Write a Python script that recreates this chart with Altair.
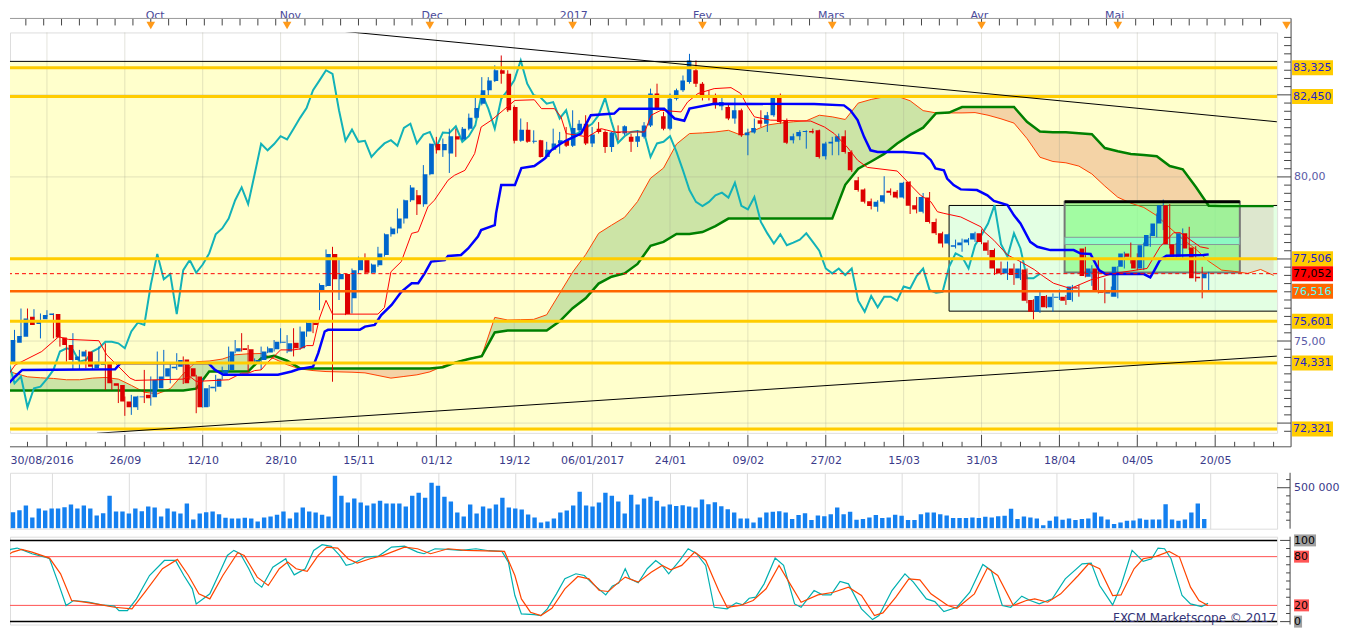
import altair as alt
import pandas as pd

# ---------------- data ----------------
opens = [73.92, 74.32, 74.95, 75.13, 75.74, 75.52, 75.66, 75.79, 75.82, 75.11,
         74.88, 74.42, 74.53, 74.68, 74.17, 74.27, 74.32, 73.71, 73.66, 73.16,
         72.98, 73.29, 73.36, 73.29, 73.56, 73.92, 74.17, 74.22, 74.44, 74.17,
         73.92, 72.98, 73.56, 73.61, 73.97, 74.12, 74.68, 74.78, 74.75, 74.37,
         74.42, 74.65, 74.75, 74.95, 74.68, 74.95, 74.78, 75.29, 75.56, 76.50,
         76.68, 77.65, 76.88, 77.04, 76.30, 77.16, 77.47, 77.08, 77.31, 77.62,
         78.25, 78.43, 78.73, 79.29, 79.44, 79.17, 80.08, 81.00, 80.81, 80.71,
         81.24, 81.14, 81.47, 81.80, 82.23, 82.64, 82.92, 83.25, 83.14, 82.13,
         81.10, 81.44, 81.07, 81.12, 80.61, 80.83, 81.02, 81.12, 80.95, 81.42,
         81.62, 81.02, 81.47, 81.37, 80.91, 81.37, 81.32, 81.22, 81.07, 81.22,
         81.57, 82.54, 81.85, 81.47, 82.38, 82.64, 82.89, 83.25, 82.84, 82.49,
         82.43, 82.15, 82.13, 81.78, 82.03, 81.27, 81.35, 81.73, 81.62, 81.88,
         82.43, 81.73, 81.12, 81.24, 81.37, 81.40, 81.42, 80.63, 81.02, 81.07,
         81.24, 80.76, 79.90, 79.62, 79.26, 79.09, 79.24, 79.58, 79.55, 79.37,
         79.85, 79.14, 78.94, 79.37, 78.63, 78.28, 77.97, 77.87, 77.92, 78.00,
         78.09, 78.28, 78.00, 77.77, 77.21, 77.06, 77.21, 76.91, 77.18, 76.25,
         75.89, 76.37, 76.03, 76.32, 76.35, 76.25, 76.64, 77.82, 76.96, 77.21,
         76.50, 76.45, 76.35, 77.26, 77.67, 77.47, 77.21, 77.89, 78.20, 78.58,
         79.14, 77.95, 77.57, 78.28, 77.85, 76.96, 76.91]
highs = [74.32, 75.13, 75.34, 75.99, 75.99, 75.97, 75.84, 75.94, 75.84, 75.34,
         75.03, 75.24, 74.73, 74.73, 74.63, 74.83, 74.93, 73.82, 73.71, 73.31,
         73.36, 73.33, 74.12, 73.92, 74.68, 74.73, 74.32, 74.63, 74.53, 74.27,
         73.97, 73.87, 73.66, 73.97, 74.22, 74.83, 75.03, 75.24, 74.88, 74.47,
         74.83, 74.83, 75.03, 75.39, 75.18, 75.39, 75.44, 75.59, 75.59, 76.76,
         77.79, 77.87, 77.47, 77.06, 77.21, 77.57, 77.67, 77.36, 77.87, 78.28,
         78.48, 79.04, 79.31, 79.75, 79.60, 80.36, 81.02, 81.22, 81.17, 81.47,
         81.47, 81.52, 81.93, 82.43, 83.04, 83.04, 83.40, 83.70, 83.25, 82.18,
         81.78, 81.67, 81.42, 81.13, 81.07, 81.47, 81.37, 81.52, 82.03, 81.73,
         81.88, 81.52, 81.67, 81.42, 81.37, 81.57, 81.57, 81.32, 81.42, 81.67,
         82.69, 82.84, 81.98, 82.54, 82.69, 83.09, 83.75, 83.55, 82.89, 82.64,
         82.54, 82.49, 82.23, 82.49, 82.08, 81.47, 81.78, 82.03, 81.98, 82.43,
         82.54, 81.78, 81.32, 81.42, 81.42, 81.47, 81.44, 81.07, 81.22, 81.32,
         81.42, 80.81, 80.00, 79.65, 79.34, 79.29, 80.02, 79.65, 79.60, 79.85,
         79.87, 79.39, 79.51, 79.54, 78.73, 78.33, 78.28, 78.09, 78.12, 78.14,
         78.33, 78.40, 78.07, 77.82, 77.42, 77.42, 77.36, 77.42, 77.21, 76.27,
         76.50, 76.40, 76.45, 76.57, 76.40, 76.71, 76.71, 77.87, 77.31, 77.47,
         76.91, 76.66, 77.28, 77.72, 78.00, 77.67, 78.00, 78.28, 78.89, 79.31,
         79.17, 77.99, 78.43, 78.48, 77.89, 77.26, 77.11]
lows = [73.82, 74.22, 74.78, 75.11, 75.44, 75.49, 75.08, 75.74, 75.08, 74.83,
        74.37, 74.12, 74.12, 74.17, 74.12, 74.24, 73.51, 73.51, 73.11, 72.72,
        72.75, 72.90, 73.11, 73.03, 73.51, 73.82, 73.71, 74.12, 73.69, 73.82,
        72.80, 72.97, 73.00, 73.46, 73.82, 74.07, 74.63, 74.68, 74.07, 74.32,
        74.12, 74.63, 74.68, 74.93, 74.63, 74.53, 74.73, 75.13, 75.24, 75.94,
        76.65, 73.76, 76.25, 75.79, 75.84, 77.06, 77.04, 77.06, 77.26, 77.57,
        78.18, 78.28, 78.58, 79.24, 78.84, 79.09, 80.05, 80.71, 80.61, 80.12,
        80.61, 81.12, 81.42, 81.78, 82.18, 82.49, 82.89, 82.84, 81.98, 81.02,
        81.07, 81.04, 81.02, 80.59, 80.56, 80.81, 80.71, 80.91, 80.91, 81.37,
        80.97, 80.91, 81.32, 80.73, 80.76, 81.12, 81.27, 80.76, 80.91, 81.17,
        81.52, 82.03, 81.42, 81.42, 82.33, 82.59, 82.84, 82.74, 82.33, 82.33,
        82.08, 82.03, 81.73, 81.62, 81.22, 80.66, 81.32, 81.52, 81.37, 81.83,
        81.62, 81.00, 81.02, 81.12, 80.86, 81.32, 80.56, 80.53, 80.66, 80.66,
        80.71, 80.15, 79.55, 79.19, 79.01, 78.94, 79.19, 79.44, 79.34, 79.34,
        78.87, 78.89, 78.89, 78.58, 78.23, 77.85, 77.92, 77.82, 77.72, 77.92,
        78.02, 77.95, 77.62, 77.01, 77.01, 76.86, 76.71, 76.86, 76.15, 75.66,
        75.86, 76.00, 75.89, 76.25, 76.10, 76.20, 76.35, 76.94, 76.68, 76.45,
        76.15, 76.35, 76.30, 77.21, 77.36, 77.16, 77.16, 77.87, 78.16, 78.38,
        77.82, 77.55, 77.52, 77.77, 76.81, 76.30, 76.55]
closes = [74.27, 75.03, 75.15, 75.69, 75.49, 75.64, 75.79, 75.84, 75.11, 74.88,
          74.42, 74.53, 74.68, 74.22, 74.37, 74.32, 73.71, 73.64, 73.16, 72.98,
          73.31, 73.31, 73.26, 73.82, 73.92, 74.17, 74.22, 74.42, 73.71, 73.92,
          72.98, 73.56, 73.61, 73.85, 74.12, 74.68, 74.78, 74.73, 74.37, 74.42,
          74.68, 74.78, 74.98, 74.98, 74.93, 74.78, 75.29, 75.56, 75.49, 76.71,
          77.65, 76.88, 77.04, 75.82, 77.16, 77.47, 77.08, 77.33, 77.67, 78.25,
          78.43, 78.73, 79.29, 79.68, 79.17, 80.08, 81.01, 80.81, 81.00, 81.24,
          81.14, 81.47, 81.80, 82.10, 82.64, 82.94, 83.25, 83.14, 82.03, 81.10,
          81.44, 81.07, 81.10, 80.61, 80.83, 81.02, 81.12, 80.95, 81.49, 81.62,
          81.02, 81.29, 81.37, 80.91, 81.35, 81.34, 81.54, 81.07, 81.24, 81.57,
          82.54, 82.08, 81.47, 82.38, 82.64, 82.94, 83.55, 82.84, 82.49, 82.43,
          82.23, 82.28, 81.78, 82.03, 81.27, 81.35, 81.49, 81.62, 81.88, 82.41,
          81.67, 81.04, 81.24, 81.37, 81.40, 81.35, 80.61, 81.02, 81.07, 81.24,
          80.76, 80.20, 79.60, 79.24, 79.11, 79.24, 79.44, 79.52, 79.37, 79.82,
          79.12, 79.01, 79.39, 78.63, 78.28, 77.97, 78.25, 77.92, 78.00, 78.09,
          78.28, 78.02, 77.75, 77.21, 77.06, 77.21, 77.01, 77.21, 76.23, 75.89,
          76.37, 76.03, 76.35, 76.35, 76.23, 76.66, 76.60, 76.98, 77.21, 76.55,
          76.47, 76.50, 77.26, 77.67, 77.57, 77.21, 77.92, 78.23, 78.58, 79.14,
          77.95, 77.57, 78.28, 77.82, 76.91, 76.91, 77.05]
volume_k = [187, 199, 224, 280, 134, 244, 220, 244, 244, 260,
            293, 244, 280, 244, 159, 187, 402, 207, 207, 183,
            244, 211, 268, 256, 146, 244, 207, 183, 305, 110,
            183, 199, 207, 175, 130, 122, 122, 130, 122, 85,
            134, 146, 167, 207, 122, 195, 256, 207, 195, 167,
            146, 646, 402, 317, 366, 317, 280, 305, 341, 305,
            305, 305, 268, 402, 439, 378, 561, 524, 390, 329,
            195, 146, 293, 183, 268, 244, 293, 378, 256, 244,
            232, 171, 134, 73, 85, 122, 195, 220, 280, 451,
            280, 268, 317, 439, 402, 329, 183, 415, 293, 366,
            390, 341, 268, 293, 276, 285, 268, 256, 354, 297,
            321, 272, 236, 195, 122, 122, 73, 134, 195, 203,
            211, 195, 114, 163, 187, 102, 159, 150, 175, 256,
            175, 203, 106, 114, 134, 163, 126, 134, 167, 154,
            102, 102, 175, 195, 195, 175, 159, 126, 126, 126,
            134, 126, 142, 134, 150, 154, 240, 114, 146, 134,
            122, 37, 93, 146, 106, 122, 102, 114, 122, 195,
            146, 110, 53, 73, 93, 98, 122, 106, 110, 110,
            297, 110, 93, 110, 195, 305, 114]

tenkan_x = [0.1, 2.1, 6.2, 8.8, 10.3, 15, 16.2, 17.8, 19.8, 20.6,
            28, 29, 30, 35, 36, 37, 38, 39, 40, 41,
            42, 43, 45, 46, 47, 48, 49, 50, 51, 58,
            59, 60, 61.6, 63.2, 64.2, 65.7, 66.7, 68.8, 69.8, 71.4,
            72.9, 73.9, 75.5, 79.1, 82.1, 83.2, 85.2, 86.2, 87, 90.3,
            92.4, 94.4, 99.1, 100.1, 101.6, 104.7, 105.7, 107.3, 109.8, 112.4,
            113.9, 115, 116, 118.5, 124.7, 126.8, 128.3, 130.3, 131.9, 133.4,
            138, 139.6, 141.6, 143.2, 144.2, 145.2, 147.8, 150.9, 151.4, 152.9,
            155, 157, 159.1, 160.6, 162.1, 164.7, 167.8, 171.4, 176.5, 178.5,
            180.6, 181.6, 184.7, 186]
tenkan_y = [73.71, 74.27, 74.68, 75.13, 75.05, 75.01, 74.58, 74.27, 73.87, 73.80,
            73.84, 73.92, 73.77, 73.82, 73.92, 74.02, 74.02, 74.10, 74.12, 74.35,
            74.53, 74.73, 74.73, 74.76, 74.86, 74.86, 75.70, 76.24, 75.82, 75.82,
            76.02, 77.11, 77.42, 78.28, 78.33, 79.09, 79.29, 79.90, 80.05, 80.20,
            80.71, 81.52, 81.73, 82.33, 82.35, 82.08, 82.08, 81.83, 81.32, 81.22,
            81.47, 81.37, 81.37, 81.88, 82.03, 81.98, 82.28, 82.54, 82.69, 82.72,
            82.54, 82.13, 81.83, 81.73, 81.70, 81.52, 81.32, 80.91, 80.51, 80.29,
            80.18, 79.85, 79.44, 79.24, 78.94, 78.89, 78.78, 78.48, 78.33, 78.07,
            77.62, 77.42, 77.18, 76.96, 76.76, 76.60, 76.86, 77.06, 77.21, 77.87,
            78.30, 78.30, 77.87, 77.82]

kijun_x = [0, 1.1, 2.1, 3.2, 17.5, 18.3, 31.9, 32.9, 34.2, 42.6,
           44.7, 45.7, 48, 48.8, 49.8, 50.3, 55.2, 56, 57.5, 58.5,
           60.1, 61.6, 63.2, 64.2, 65.2, 66.2, 68.3, 68.8, 70.8, 71.9,
           73.4, 73.9, 76, 76.2, 77, 79.1, 80.1, 82.1, 83.7, 84.7,
           86.2, 87.3, 89.3, 90.8, 94.4, 95.2, 102.1, 103.7, 105.2, 106,
           109.8, 125.2, 129.8, 130.8, 131.9, 132.9, 133.9, 135, 139, 142.1,
           143.2, 143.9, 145.2, 145.7, 146.7, 147.8, 150.3, 151.9, 152.9, 155,
           156, 157, 158.5, 159.6, 161.6, 165.2, 166.2, 167.8, 169.1, 170.1,
           176, 177, 177.5, 178.5, 179.5, 185.2, 186]
kijun_y = [73.63, 73.71, 73.92, 74.12, 74.14, 74.32, 74.32, 74.12, 73.97, 73.97,
           74.07, 74.14, 74.22, 74.63, 75.29, 75.34, 75.34, 75.44, 75.49, 75.79,
           76.10, 76.50, 76.76, 76.76, 77.06, 77.42, 77.47, 77.59, 77.62, 77.82,
           78.18, 78.38, 78.53, 78.89, 79.75, 79.75, 80.27, 80.33, 80.56, 80.81,
           81.02, 81.14, 81.32, 81.88, 81.93, 82.08, 82.08, 81.78, 81.71, 82.08,
           82.23, 82.22, 82.18, 82.03, 81.73, 81.22, 80.81, 80.76, 80.76, 80.71,
           80.51, 80.26, 80.20, 79.95, 79.75, 79.62, 79.60, 79.44, 79.27, 79.14,
           78.83, 78.58, 78.02, 77.87, 77.77, 77.77, 77.67, 77.65, 77.16, 77.04,
           77.04, 76.94, 77.11, 77.47, 77.60, 77.62, 77.64]

cloud_x = list(range(0, 197, 2))
span_a = [74.17, 74.02, 73.91, 73.88, 73.86, 73.82, 73.82, 73.87, 73.89, 73.84,
          73.65, 73.44, 73.39, 73.55, 74.00, 74.37, 74.39, 74.45, 74.58, 74.61,
          74.62, 74.46, 74.28, 74.15, 74.10, 74.07, 74.06, 74.05, 74.03, 73.95,
          73.87, 73.92, 73.97, 74.06, 74.24, 74.36, 74.46, 74.55, 75.72, 75.64,
          75.65, 75.66, 75.80, 76.45, 77.10, 77.63, 78.28, 78.53, 78.77, 79.25,
          79.96, 80.27, 81.00, 81.32, 81.34, 81.37, 81.42, 81.27, 81.42, 81.58,
          81.64, 81.68, 81.71, 81.88, 81.83, 81.75, 82.25, 82.36, 82.44, 82.46,
          82.32, 82.02, 81.95, 81.95, 81.95, 81.96, 81.88, 81.77, 81.64, 81.17,
          80.60, 80.47, 80.43, 80.33, 80.09, 79.72, 79.38, 79.20, 79.07, 78.82,
          78.45, 78.10, 77.80, 77.43, 77.16, 77.12, 77.06, 77.18, 77.00]
span_b = [73.49, 73.49, 73.49, 73.49, 73.49, 73.49, 73.49, 73.49, 73.49, 73.49,
          73.49, 73.49, 73.49, 73.49, 73.49, 73.55, 74.07, 74.07, 74.07, 74.07,
          74.47, 74.55, 74.40, 74.17, 74.16, 74.16, 74.16, 74.16, 74.16, 74.16,
          74.16, 74.16, 74.16, 74.16, 74.20, 74.35, 74.45, 74.54, 75.26, 75.32,
          75.32, 75.32, 75.32, 75.60, 76.00, 76.30, 76.75, 76.96, 77.06, 77.35,
          77.90, 78.02, 78.26, 78.26, 78.32, 78.50, 78.73, 78.73, 78.73, 78.73,
          78.73, 78.73, 78.73, 78.73, 78.73, 79.76, 80.25, 80.47, 80.70, 81.02,
          81.28, 81.50, 81.94, 81.96, 82.13, 82.13, 82.13, 82.13, 82.13, 81.68,
          81.38, 81.36, 81.36, 81.33, 81.30, 80.88, 80.78, 80.70, 80.67, 80.63,
          80.33, 80.23, 79.70, 79.12, 79.11, 79.11, 79.11, 79.11, 79.11]

stoch_k_x = [0.1, 1.4, 2.4, 3.4, 4.7, 6.7, 7.4, 8.7, 9.95, 11.1,
             13.4, 15.4, 17.4, 18.1, 19.4, 20.8, 22.8, 25.1, 26.8, 28.1,
             29.4, 30, 31.4, 32.1, 33.4, 34.8, 35.8, 36.8, 38.1, 39.1,
             40.1, 41.8, 43.8, 44.1, 45.1, 46.8, 48.1, 49.4, 50.8, 52.1,
             53.1, 54.1, 56.1, 58.1, 60.1, 62.1, 64.1, 65.1, 66.8, 68.8,
             70.8, 73.1, 75.1, 77.1, 78.1, 79.1, 80.1, 82.1, 83.1, 84.1,
             85.5, 86.8, 88.5, 89.8, 91.1, 93.1, 94.1, 95.1, 96.1, 96.8,
             98.1, 99.5, 100.8, 101.8, 102.8, 104.5, 105.8, 107.1, 108.5, 109.8,
             111.8, 113.2, 114.2, 115.2, 116.2, 117.5, 119.2, 120.5, 122.2, 123.2,
             125.2, 126.5, 127.8, 129.2, 130.5, 132.5, 134.2, 135.2, 137.2, 139.2,
             140.5, 142.5, 143.8, 145.2, 147.2, 149.2, 151.2, 152.5, 154.2, 155.5,
             157.2, 158.5, 159.9, 161.9, 163.9, 166.5, 167.9, 169.2, 171.2, 172.5,
             174.2, 175.9, 177.2, 178.2, 179.2, 180.2, 181.9, 183.2, 184.9, 185.9]
stoch_k = [80.7, 88.9, 90.6, 87.7, 83.6, 79.5, 77.4, 48.6, 19.8, 26.0,
           23.9, 20.6, 19.0, 13.6, 13.6, 28.0, 56.8, 75.3, 75.3, 56.8,
           40.4, 21.8, 30.1, 34.2, 56.8, 81.5, 87.7, 83.6, 65.1, 48.6,
           42.4, 67.1, 77.4, 71.2, 57.6, 65.1, 87.7, 94.7, 92.6, 81.5,
           69.2, 71.2, 79.5, 80.7, 91.8, 93.0, 85.6, 83.6, 89.7, 88.9,
           87.7, 89.7, 87.3, 86.4, 73.3, 32.1, 9.5, 8.7, 7.4, 15.7,
           34.2, 52.7, 58.9, 56.8, 46.5, 32.9, 43.7, 47.4, 65.1, 52.7,
           47.8, 65.1, 75.3, 69.2, 58.9, 75.3, 89.7, 83.6, 69.2, 17.7,
           15.7, 23.1, 20.6, 28.8, 30.1, 46.5, 78.2, 69.2, 21.8, 17.7,
           38.3, 32.9, 32.9, 49.4, 46.5, 15.7, 2.5, 7.4, 38.3, 58.9,
           48.6, 28.0, 24.7, 12.4, 17.7, 36.2, 70.4, 63.0, 19.8, 17.7,
           31.3, 26.0, 21.8, 28.0, 52.7, 71.2, 72.0, 44.5, 20.6, 44.5,
           87.7, 74.1, 77.4, 90.6, 89.7, 77.4, 32.1, 21.8, 18.5, 22.7]
stoch_d_x = [0.1, 1.7, 3.1, 4.7, 7.4, 9.1, 10.8, 12.8, 15.4, 17.4,
             20.1, 22.1, 24.8, 27.1, 28.8, 30.4, 32.1, 34.1, 36.4, 37.4,
             39.4, 41.1, 42.8, 44.1, 45.4, 47.1, 48.8, 50.1, 51.8, 53.4,
             54.8, 56.8, 58.8, 62.1, 64.1, 66.1, 68.8, 71.5, 77.5, 79.1,
             80.1, 81.5, 83.1, 84.8, 86.8, 88.8, 90.5, 92.1, 93.5, 94.8,
             96.1, 98.1, 100.1, 101.8, 103.1, 104.8, 106.8, 108.5, 110.5, 111.8,
             113.8, 115.8, 117.8, 119.8, 121.5, 123.2, 125.8, 128.2, 130.5, 132.5,
             134.5, 135.8, 137.8, 139.8, 141.5, 143.2, 145.8, 147.2, 149.9, 151.9,
             153.5, 155.9, 157.9, 159.2, 161.2, 163.2, 165.9, 167.5, 169.2, 171.2,
             172.5, 174.5, 175.9, 177.9, 179.9, 181.5, 183.2, 184.5, 185.9]
stoch_d = [77.4, 85.6, 88.9, 85.6, 78.2, 58.9, 26.0, 23.9, 20.6, 17.7,
           15.7, 36.2, 65.1, 76.6, 56.8, 34.2, 28.0, 56.8, 84.8, 81.5,
           54.8, 44.5, 65.1, 73.3, 65.1, 61.8, 81.5, 91.8, 90.6, 77.4,
           72.0, 77.4, 81.5, 91.8, 89.7, 83.6, 89.7, 87.7, 86.4, 56.8,
           28.0, 11.6, 7.4, 16.5, 40.4, 55.6, 52.7, 38.3, 37.1, 46.5,
           54.8, 48.6, 60.9, 69.2, 63.8, 69.2, 85.6, 75.3, 38.3, 17.7,
           19.8, 26.0, 40.4, 69.2, 46.5, 23.9, 32.9, 36.2, 42.4, 32.1,
           7.4, 10.7, 30.1, 52.7, 51.5, 34.2, 19.8, 16.5, 34.2, 65.9,
           56.8, 19.8, 26.0, 28.0, 23.9, 34.2, 56.8, 71.2, 65.1, 32.1,
           32.9, 65.1, 77.4, 80.3, 86.4, 79.5, 42.4, 26.0, 19.8]

gold_levels = [83.325, 82.45, 77.506, 75.601, 74.331, 72.321]
orange_level = 76.516
last_price = 77.052
resist_top = 83.52
yellow_bottom = 72.25

mint_box = {"x": 146.0, "x2": 200.0, "y": 79.13, "y2": 75.91}
green_box = {"x": 163.8, "x2": 190.8, "y": 79.24, "y2": 77.09}
band_box = {"x": 163.8, "x2": 190.8, "y": 78.16, "y2": 77.94}

trend_down = {"x": [52.4, 196.5], "y": [84.44, 81.68]}
trend_up = {"x": [14.7, 196.5], "y": [72.19, 74.54]}

date_pos = [19, 31, 43, 55, 67, 79, 91, 103, 115, 127, 139, 151, 163, 175, 187]
date_labels = ['26/09', '12/10', '28/10', '15/11', '01/12', '19/12', '06/01/2017',
               '24/01', '09/02', '27/02', '15/03', '31/03', '18/04', '04/05', '20/05']
first_date = '30/08/2016'
grid_pos = [7, 19, 31, 43, 55, 67, 79, 91, 103, 115, 127, 139, 151, 163, 175, 187]
month_pos = [23, 44, 66, 88, 108, 128, 151, 172]
month_labels = ['Oct', 'Nov', 'Dec', '2017', 'Fev', 'Mars', 'Avr', 'Mai']
month_marks = [23, 44, 66, 88, 108, 128, 151, 172, 198]
price_axis_labels = [80.0, 75.0]

# ---------------- geometry ----------------
W, H = 1269, 401
VH, SH = 56, 88
X0, X1 = 1.3077, 196.54
Y0, Y1 = 72.203, 84.402
FONT = 'DejaVu Sans'

xs = alt.Scale(domain=[X0, X1], nice=False, zero=False)
ys = alt.Scale(domain=[Y0, Y1], nice=False, zero=False)
vs = alt.Scale(domain=[-4000, 684000], nice=False, zero=False)
sts = alt.Scale(domain=[-3.6, 104.6], nice=False, zero=False)


def xq(f, axis=None):
    return alt.X(f, type='quantitative', scale=xs, axis=axis)


def yq(f, axis=None):
    return alt.Y(f, type='quantitative', scale=ys, axis=axis)


n = len(closes)
cdf = pd.DataFrame({'i': list(range(n)), 'o': opens, 'h': highs, 'l': lows, 'c': closes,
                    'v': [v * 1000 for v in volume_k]})
cdf['dir'] = ['up' if c >= o else 'down' for o, c in zip(opens, closes)]
chik = pd.DataFrame({'x': [i - 26 for i in range(n)], 'y': closes})
cloud = pd.DataFrame({'x': cloud_x, 'a': span_a, 'b': span_b})
one = pd.DataFrame({'k': [0]})

# ---------------- axes (labels only; ticks are drawn as rules) ----------------
lab_expr = "abs(datum.value - %s) < 0.01 ? '%s' : " % (X0, first_date)
for p, t in zip(date_pos, date_labels):
    lab_expr += "abs(datum.value - %d) < 0.01 ? '%s' : " % (p, t)
lab_expr += "''"
bottom_axis = alt.Axis(
    orient='bottom', values=[X0] + date_pos, labelExpr=lab_expr, title=None,
    ticks=False, domain=False, grid=False, labelPadding=22, labelOverlap=False,
    labelFont=FONT, labelFontSize=11, labelColor='#3A3A8A')

m_expr = ""
for p, t in zip(month_pos, month_labels):
    m_expr += "datum.value == %d ? '%s' : " % (p, t)
m_expr += "''"
top_axis = alt.Axis(
    orient='top', values=month_pos, labelExpr=m_expr, title=None, ticks=False,
    domain=False, grid=False, labelPadding=12, labelOverlap=False, labelFlush=False,
    labelFont=FONT, labelFontSize=11, labelColor='#4A4A9A')

grid_axis = alt.Axis(values=grid_pos, labels=False, ticks=False, domain=False, grid=True,
                     gridColor='#DCDCDC', title=None)

# tick positions
starts = [1, 23, 44, 66, 88, 108, 128, 151, 172, 198]
top_ticks = []
for a, b in zip(starts[:-1], starts[1:]):
    t = float(a)
    while t < b - 1.0:
        if X0 <= t <= X1:
            top_ticks.append(round(t, 3))
        t += 2.75
bottom_minor = [v for v in range(4, 197, 3) if (v - 7) % 12 != 0]
y_all = [round(72.25 + 0.25 * k, 2) for k in range(49)]
y_major = [v for v in y_all if abs(v / 2.5 - round(v / 2.5)) < 1e-6]
y_minor = [v for v in y_all if v not in y_major]

TICK = '#444444'

# ---------------- main panel ----------------
bg = alt.Chart(pd.DataFrame({'t': [resist_top], 'b': [yellow_bottom]})).mark_rect(color='#FFFFCC').encode(
    x=alt.value(0), x2=alt.value(W), y=yq('t'), y2='b')

cbase = alt.Chart(cloud).transform_calculate(lo='min(datum.a, datum.b)')
cloud_green = cbase.mark_area(color='#CCE4A6', clip=True).encode(x=xq('x'), y=yq('a'), y2='lo:Q')
cloud_orange = cbase.mark_area(color='#F4D3A6', clip=True).encode(x=xq('x'), y=yq('b'), y2='lo:Q')

vgrid = alt.Chart(pd.DataFrame({'x': grid_pos})).mark_rule(color='#A0A08C', opacity=0.3).encode(x=xq('x'))
hgrid = alt.Chart(pd.DataFrame({'y': y_major})).mark_rule(color='#A0A08C', opacity=0.3).encode(y=yq('y'))

mint = alt.Chart(pd.DataFrame([mint_box])).mark_rect(
    fill='#C0FFFF', fillOpacity=0.45, stroke='black', strokeWidth=1, clip=True).encode(
    x=xq('x'), x2='x2', y=yq('y'), y2='y2')
gbox = alt.Chart(pd.DataFrame([green_box])).mark_rect(
    fill='#6EFA6E', fillOpacity=0.55, stroke='#777777', strokeWidth=2).encode(
    x=xq('x'), x2='x2', y=yq('y'), y2='y2')
band = alt.Chart(pd.DataFrame([band_box])).mark_rect(
    fill='#80FFE0', fillOpacity=0.6, stroke='#889999', strokeWidth=1).encode(
    x=xq('x'), x2='x2', y=yq('y'), y2='y2')
gtop = alt.Chart(pd.DataFrame([green_box])).mark_rule(color='black', strokeWidth=3).encode(
    x=xq('x'), x2='x2', y=yq('y'))

span_a_line = alt.Chart(cloud).mark_line(color='#FF4000', strokeWidth=1, clip=True).encode(x=xq('x'), y=yq('a'))
span_b_line = alt.Chart(cloud).mark_line(color='#008000', strokeWidth=2.5, clip=True).encode(x=xq('x'), y=yq('b'))
chikou = alt.Chart(chik).mark_line(color='#12B2B8', strokeWidth=2, clip=True).encode(x=xq('x'), y=yq('y'))

ccol = alt.Color('dir:N', scale=alt.Scale(domain=['up', 'down'], range=['#0066CC', '#DD0000']), legend=None)
wick = alt.Chart(cdf).mark_rule(strokeWidth=1, clip=True).encode(
    x=xq('i', bottom_axis), y=yq('l'), y2='h', color=ccol)
body = alt.Chart(cdf).mark_bar(size=4.6, clip=True).encode(
    x=xq('i', top_axis), y=yq('o'), y2='c', color=ccol)

tenkan = alt.Chart(pd.DataFrame({'x': tenkan_x, 'y': tenkan_y})).mark_line(
    color='#FF0000', strokeWidth=1, clip=True).encode(x=xq('x'), y=yq('y'))
kijun = alt.Chart(pd.DataFrame({'x': kijun_x, 'y': kijun_y})).mark_line(
    color='#0000FF', strokeWidth=2.5, clip=True).encode(x=xq('x'), y=yq('y'))

top_line = alt.Chart(pd.DataFrame({'y': [resist_top]})).mark_rule(color='black', strokeWidth=1).encode(y=yq('y'))
gold = alt.Chart(pd.DataFrame({'y': gold_levels})).mark_rule(color='#FFCC00', strokeWidth=3).encode(y=yq('y'))
orange = alt.Chart(pd.DataFrame({'y': [orange_level]})).mark_rule(color='#FF6600', strokeWidth=2.5).encode(y=yq('y'))
current = alt.Chart(pd.DataFrame({'y': [last_price]})).mark_rule(
    color='#FF0000', strokeWidth=1, strokeDash=[4, 3]).encode(y=yq('y'))

tr = pd.DataFrame({'x': trend_down['x'] + trend_up['x'], 'y': trend_down['y'] + trend_up['y'],
                   'g': ['d', 'd', 'u', 'u']})
trends = alt.Chart(tr).mark_line(color='black', strokeWidth=1, clip=True).encode(
    x=xq('x'), y=yq('y'), detail='g:N')

lv = [83.325, 82.45, 77.506, last_price, orange_level, 75.601, 74.331, 72.321]
lab = pd.DataFrame({
    'y': lv,
    'txt': [('%.3f' % v).replace('.', ',') for v in lv],
    'bg': ['#FFCC00', '#FFCC00', '#FFCC00', '#FF0000', '#FF6600', '#FFCC00', '#FFCC00', '#FFCC00'],
    'fg': ['#2222CC', '#2222CC', '#2222CC', '#000000', '#55FFFF', '#2222CC', '#2222CC', '#2222CC'],
})
lab_box = alt.Chart(lab).mark_rule(strokeWidth=15).encode(
    x=alt.value(W + 15), x2=alt.value(W + 56), y=yq('y'), color=alt.Color('bg:N', scale=None))
lab_txt = alt.Chart(lab).mark_text(align='left', baseline='middle', font=FONT, fontSize=11, dy=0.5).encode(
    x=alt.value(W + 16), y=yq('y'), text='txt:N', color=alt.Color('fg:N', scale=None))
axis_lab = pd.DataFrame({'y': price_axis_labels,
                         'txt': [('%.2f' % v).replace('.', ',') for v in price_axis_labels]})
axis_txt = alt.Chart(axis_lab).mark_text(align='left', baseline='middle', font=FONT, fontSize=11,
                                         color='#5A5AA6', dy=0.5).encode(
    x=alt.value(W + 17), y=yq('y'), text='txt:N')

# ticks and frame lines of the main panel
t_top = alt.Chart(pd.DataFrame({'x': top_ticks})).mark_rule(color=TICK).encode(
    x=xq('x'), y=alt.value(-14), y2=alt.value(-7))
t_bmaj = alt.Chart(pd.DataFrame({'x': grid_pos})).mark_rule(color=TICK).encode(
    x=xq('x'), y=alt.value(H + 2), y2=alt.value(H + 14))
t_bmin = alt.Chart(pd.DataFrame({'x': bottom_minor})).mark_rule(color=TICK).encode(
    x=xq('x'), y=alt.value(H + 9), y2=alt.value(H + 14))
t_rmaj = alt.Chart(pd.DataFrame({'y': y_major})).mark_rule(color=TICK).encode(
    x=alt.value(W), x2=alt.value(W + 14), y=yq('y'))
t_rmin = alt.Chart(pd.DataFrame({'y': y_minor})).mark_rule(color=TICK).encode(
    x=alt.value(W + 7), x2=alt.value(W + 14), y=yq('y'))
tri = alt.Chart(pd.DataFrame({'m': month_marks})).mark_point(
    shape='triangle-down', filled=True, size=75, color='#FF9A1A', opacity=1).encode(
    x=xq('m'), y=alt.value(-7))
deco_top = alt.Chart(one).mark_rule(color='#999999').encode(
    x=alt.value(0), x2=alt.value(W + 14), y=alt.value(-14))
deco_right = alt.Chart(one).mark_rule(color=TICK).encode(
    x=alt.value(W + 14), y=alt.value(-14), y2=alt.value(H + 14))
deco_bottom = alt.Chart(one).mark_rule(color='#555555').encode(
    x=alt.value(0), x2=alt.value(W + 14), y=alt.value(H + 14))

main = alt.layer(
    bg, cloud_green, cloud_orange, vgrid, hgrid, mint, gbox, band,
    span_a_line, span_b_line, chikou, wick, body, tenkan, kijun,
    top_line, gold, orange, current, gtop, trends,
    lab_box, lab_txt, axis_txt, t_top, t_bmaj, t_bmin, t_rmaj, t_rmin,
    tri, deco_top, deco_right, deco_bottom
).properties(width=W, height=H).resolve_scale(x='independent')

# ---------------- volume panel ----------------
vol_bars = alt.Chart(cdf).mark_bar(size=4.4, color='#1480F0', clip=True).encode(
    x=xq('i', grid_axis), y=alt.Y('v:Q', scale=vs, axis=None))
v_major = [500000]
v_minor = [100000, 200000, 300000, 400000, 600000]
v_tmaj = alt.Chart(pd.DataFrame({'y': v_major})).mark_rule(color=TICK).encode(
    x=alt.value(W), x2=alt.value(W + 13), y=alt.Y('y:Q', scale=vs, axis=None))
v_tmin = alt.Chart(pd.DataFrame({'y': v_minor})).mark_rule(color=TICK).encode(
    x=alt.value(W + 9), x2=alt.value(W + 13), y=alt.Y('y:Q', scale=vs, axis=None))
v_line = alt.Chart(one).mark_rule(color=TICK).encode(
    x=alt.value(W + 13), y=alt.value(0), y2=alt.value(VH))
v_lab = alt.Chart(pd.DataFrame({'y': v_major, 't': ['500 000']})).mark_text(
    align='left', baseline='middle', font=FONT, fontSize=11, color='#3A3A8A', dy=0.5).encode(
    x=alt.value(W + 17), y=alt.Y('y:Q', scale=vs, axis=None), text='t:N')
vol = alt.layer(vol_bars, v_tmaj, v_tmin, v_line, v_lab).properties(width=W, height=VH)

# ---------------- stochastic panel ----------------
st_bw = alt.Chart(pd.DataFrame({'y': [100, 0]})).mark_rule(color='black', strokeWidth=1.5).encode(
    y=alt.Y('y:Q', scale=sts, axis=None))
st_red = alt.Chart(pd.DataFrame({'y': [80, 20]})).mark_rule(color='#FF5050', strokeWidth=1).encode(
    y=alt.Y('y:Q', scale=sts, axis=None))
kline = alt.Chart(pd.DataFrame({'x': stoch_k_x, 'y': stoch_k})).mark_line(
    color='#00B0B0', strokeWidth=1.2, clip=True).encode(
    x=xq('x', grid_axis), y=alt.Y('y:Q', scale=sts, axis=None))
dline = alt.Chart(pd.DataFrame({'x': stoch_d_x, 'y': stoch_d})).mark_line(
    color='#FF4500', strokeWidth=1.2, clip=True).encode(
    x=xq('x'), y=alt.Y('y:Q', scale=sts, axis=None))
s_tmaj = alt.Chart(pd.DataFrame({'y': [0, 100]})).mark_rule(color=TICK).encode(
    x=alt.value(W + 3), x2=alt.value(W + 13), y=alt.Y('y:Q', scale=sts, axis=None))
s_tmin = alt.Chart(pd.DataFrame({'y': [10, 20, 30, 40, 50, 60, 70, 80, 90]})).mark_rule(color=TICK).encode(
    x=alt.value(W + 9), x2=alt.value(W + 13), y=alt.Y('y:Q', scale=sts, axis=None))
s_line = alt.Chart(one).mark_rule(color=TICK).encode(
    x=alt.value(W + 13), y=alt.value(0), y2=alt.value(SH))
st_txt_list = ['100', '80', '20', '0']
st_lab = pd.DataFrame({'y': [100, 80, 20, 0], 'txt': st_txt_list,
                       'bg': ['#A0A0A0', '#FF5555', '#FF5555', '#A0A0A0'],
                       'px1': [W + 17] * 4,
                       'px2': [W + 18 + 7 * len(t) for t in st_txt_list]})
st_box = alt.Chart(st_lab).mark_rule(strokeWidth=12).encode(
    x=alt.X('px1:Q', scale=None), x2='px2:Q', y=alt.Y('y:Q', scale=sts, axis=None),
    color=alt.Color('bg:N', scale=None))
st_txt = alt.Chart(st_lab).mark_text(align='left', baseline='middle', font=FONT, fontSize=11,
                                     color='black', dy=0.5).encode(
    x=alt.value(W + 17), y=alt.Y('y:Q', scale=sts, axis=None), text='txt:N')
brand = alt.Chart(pd.DataFrame({'t': ['FXCM Marketscope © 2017']})).mark_text(
    align='right', baseline='bottom', font=FONT, fontSize=12, color='#333377').encode(
    x=alt.value(W - 1), y=alt.value(SH), text='t:N')
stoch = alt.layer(st_bw, st_red, kline, dline, s_tmaj, s_tmin, s_line,
                  st_box, st_txt, brand).properties(width=W, height=SH)

chart = alt.vconcat(main, alt.vconcat(vol, stoch, spacing=4), spacing=5).properties(
    padding=0).configure_view(stroke='#C5CFDA', strokeWidth=2).configure(background='white')

chart.save('out.html', embed_options={'renderer': 'svg', 'actions': False})
